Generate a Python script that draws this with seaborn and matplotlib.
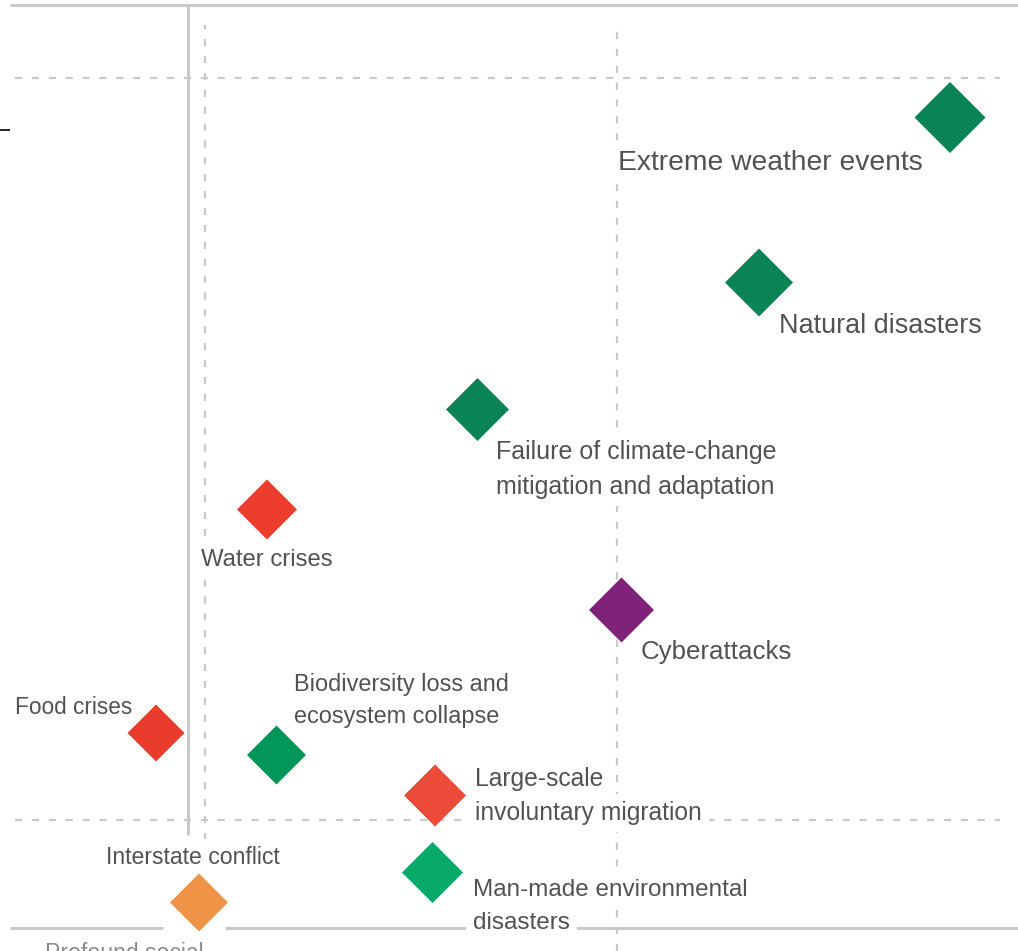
import matplotlib
matplotlib.use("Agg")
import matplotlib.pyplot as plt
import seaborn as sns
import pandas as pd

# Risk landscape (detail): likelihood on x, impact on y, in chart units
risks = [
    "Extreme weather events",
    "Natural disasters",
    "Failure of climate-change\nmitigation and adaptation",
    "Water crises",
    "Cyberattacks",
    "Food crises",
    "Biodiversity loss and\necosystem collapse",
    "Large-scale\ninvoluntary migration",
    "Interstate conflict",
    "Man-made environmental\ndisasters",
]
likelihood = [950, 759, 477.5, 267, 621.5, 156, 276.5, 435, 199, 432.5]
impact = [833.5, 668.5, 541.5, 441.5, 341, 218, 196, 155.5, 48.5, 78.5]
risk_colors = ["#0a8455", "#0a8455", "#0a8455", "#ec3d2c", "#7e2379",
               "#ea3c2e", "#029659", "#ec4b3a", "#ef9446", "#08aa6a"]

# Diamond half-diagonal per marker, in pixels (labels scale with it)
marker_half_px = [35.5, 34, 31.5, 30, 32.5, 28.5, 29.5, 31, 29, 30.5]

# Label offsets from each marker (pixels, first-line baseline, left aligned)
label_dx = [-332, 20, 18.5, -66, 19.5, -141, 17.5, 40, -93, 40.5]
label_dy = [-52.5, -50.5, -49.5, -56.5, -49, 19, 64, 9.5, 38.5, -23.5]

# Reference lines of the landscape
avg_likelihood = 188
grid_x = [205, 617]
grid_y = [873, 131]

DPI = 100
W, H = 1018, 951
PX2PT = 72 / DPI

sns.set_theme(style="white")
plt.rcParams["font.family"] = ["Liberation Sans", "DejaVu Sans"]

df = pd.DataFrame({"risk": risks, "likelihood": likelihood, "impact": impact})
palette = dict(zip(risks, risk_colors))
sizes = [(h / 0.7071 * PX2PT) ** 2 for h in marker_half_px]

fig = plt.figure(figsize=(W / DPI, H / DPI), dpi=DPI)
fig.patch.set_facecolor("white")
ax = fig.add_axes([0, 0, 1, 1])
ax.set_xlim(0, W)
ax.set_ylim(0, H)
ax.axis("off")

grid_kw = dict(color="#c9c9c9", linewidth=1.6, linestyle=(0, (3.2, 4.4)), zorder=1)
# dashed quadrant guides
ax.vlines(grid_x[0], 111, 926, **grid_kw)
ax.vlines(grid_x[1], 0, 926, **grid_kw)
for gy in grid_y:
    ax.hlines(gy, 15, 1000, **grid_kw)

solid_kw = dict(color="#c9c9c9", linewidth=2.2, zorder=1)
ax.vlines(avg_likelihood, 116, 946, **solid_kw)
ax.hlines(946, 10, W, **solid_kw)
ax.hlines(23, 10, 163, **solid_kw)
ax.hlines(23, 225, W, **solid_kw)
ax.hlines(821, 0, 10, color="black", linewidth=1.2, zorder=1)

sns.scatterplot(data=df, x="likelihood", y="impact", hue="risk", palette=palette,
                marker="D", s=sizes, linewidth=0, legend=False, ax=ax, zorder=4)

text_color = "#525252"
for name, x, y, dx, dy, h in zip(risks, likelihood, impact, label_dx, label_dy,
                                 marker_half_px):
    em_px = 0.795 * h
    step = 1.38 * em_px
    for i, line in enumerate(name.split("\n")):
        ax.annotate(line, xy=(x, y), xytext=(dx, dy - i * step),
                    textcoords="offset pixels", ha="left", va="baseline",
                    fontsize=em_px * PX2PT, color=text_color, zorder=3,
                    bbox=dict(boxstyle="square,pad=0.3", fc="white", ec="none"))

ax.text(45, -9, "Profound social", fontsize=23 * PX2PT, color="#8a8a8a",
        ha="left", va="baseline", clip_on=False)

fig.savefig("out.png", dpi=DPI, facecolor="white")
